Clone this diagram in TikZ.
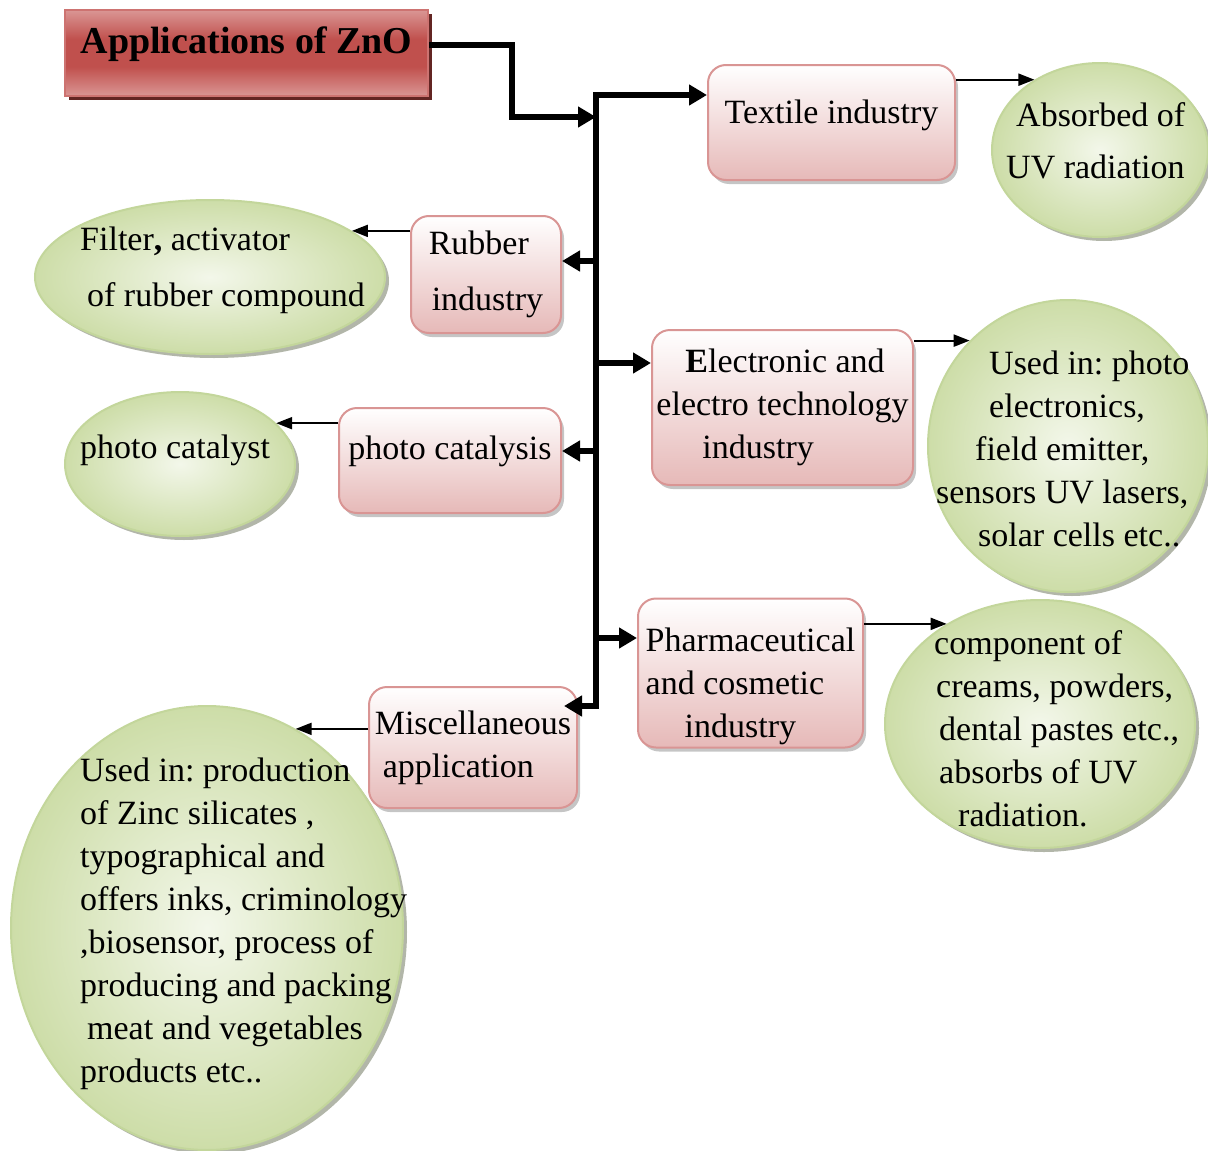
\documentclass[tikz,border=0pt]{standalone}
\usepackage{fontspec}
\setmainfont{Liberation Serif}
\usetikzlibrary{arrows.meta,shapes.geometric,shadows}
\frenchspacing

\definecolor{boxline}{HTML}{D99594}
\definecolor{boxfill}{HTML}{E6B9B8}
\definecolor{titlered}{HTML}{C0504D}
\definecolor{titlelight}{HTML}{DA9694}
\definecolor{titleshadow}{HTML}{632523}
\definecolor{ellline}{HTML}{C3D69B}
\definecolor{ellin}{HTML}{F3F7EA}
\definecolor{ellout}{HTML}{CDDDA8}

\pgfdeclareverticalshading{titleshade}{100bp}{color(0bp)=(titlelight); color(25bp)=(titlelight);
  color(42bp)=(titlered); color(58bp)=(titlered); color(75bp)=(titlelight); color(100bp)=(titlelight)}

\tikzset{
  pinkbox/.style={rectangle, rounded corners=18pt, draw=boxline, line width=2pt,
    top color=white, bottom color=boxfill,
    drop shadow={shadow xshift=3pt, shadow yshift=-4pt, fill=black!45},
    align=center, inner sep=2pt, font=\fontsize{34}{43}\selectfont},
  greenell/.style={ellipse, draw=ellline, line width=2pt, inner sep=0pt,
    inner color=ellin, outer color=ellout,
    drop shadow={shadow xshift=4pt, shadow yshift=-4pt, fill=ellout!50!black}},
  elltext/.style={anchor=west, align=left, inner sep=0pt, font=\fontsize{34}{43}\selectfont},
  bigarrow/.style={line width=6pt, >={Triangle[length=18pt,width=20pt]}, ->},
  thinarrow/.style={line width=2pt, -{Triangle[length=16pt,width=12pt]}},
}

\begin{document}
\begin{tikzpicture}[x=1pt,y=-1pt]
\useasboundingbox (0,0) rectangle (1208,1151);

% title
\node[rectangle, draw=titlered!80, line width=2pt, shading=titleshade,
  minimum width=363pt, text height=35pt, text depth=35pt, inner ysep=8pt,
  drop shadow={shadow xshift=4pt, shadow yshift=-4pt, fill=titleshadow, opacity=1},
  font=\fontsize{38}{44}\bfseries] (title) at (246.5,53) {Applications of ZnO};

% branches
\node[pinkbox, minimum width=247pt, minimum height=115pt, text height=24pt, text depth=22pt] (textile) at (831.5,122.5) {Textile industry};
\node[pinkbox, minimum width=150pt, minimum height=117pt, align=left, font=\fontsize{34}{56}\selectfont] (rubber) at (486,274.5) {Rubber\\\hspace*{3pt}industry};
\node[pinkbox, minimum width=261pt, minimum height=155pt, align=left] (electro) at (782.5,407.5) {\hspace*{29pt}\textbf{E}lectronic and\\electro technology\\\hspace*{46pt}industry};
\node[pinkbox, minimum width=222pt, minimum height=105pt, text height=24pt, text depth=27pt] (catalysis) at (450,460.5) {photo catalysis};
\node[pinkbox, minimum width=225pt, minimum height=146pt, align=left, text height=137pt, text depth=8pt] (pharma) at (750.5,673) {Pharmaceutical\\and cosmetic\\\hspace*{39pt}industry};
\node[pinkbox, minimum width=208pt, minimum height=121pt, align=left] (misc) at (473,747.5) {Miscellaneous\\\hspace*{8pt}application};

% uses
\node[greenell, minimum width=216pt, minimum height=174pt] (absorbed) at (1100,150) {};
\node[greenell, minimum width=350pt, minimum height=154pt] (filter) at (210,277) {};
\node[greenell, minimum width=230pt, minimum height=144pt] (catalyst) at (180,464) {};
\node[greenell, minimum width=280pt, minimum height=292pt] (usedphoto) at (1068,446) {};
\node[greenell, minimum width=310pt, minimum height=248pt] (component) at (1040,724) {};
\node[greenell, minimum width=392pt, minimum height=444pt] (usedmisc) at (207,928) {};

\node[elltext, font=\fontsize{34}{52}\selectfont] (absorbedtxt) at (1006,141) {\hspace*{10pt}Absorbed of\\UV radiation};
\node[elltext, font=\fontsize{34}{56}\selectfont] (filtertxt) at (80,270) {Filter\textbf{,} activator\\\hspace*{7pt}of rubber compound};
\node[elltext] (catalysttxt) at (80,450) {photo catalyst};
\node[elltext] (usedphototxt) at (936,448.5) {\hspace*{53pt}Used in: photo\\\hspace*{53pt}electronics,\\\hspace*{39pt}field emitter,\\sensors UV lasers,\\\hspace*{42pt}solar cells etc..};
\node[elltext] (componenttxt) at (934,729) {component of\\\hspace*{2pt}creams, powders,\\\hspace*{5pt}dental pastes etc.,\\\hspace*{5pt}absorbs of UV\\\hspace*{24pt}radiation.};
\node[elltext] (usedmisctxt) at (80,923.5) {Used in: production\\of Zinc silicates ,\\typographical and\\offers inks, criminology\\,biosensor, process of\\producing and packing\\\hspace*{7pt}meat and vegetables\\products etc..};

% trunk
\coordinate (jtop) at (596,95);
\coordinate (jbot) at (596,706);
\coordinate (entry) at (596,117);
\coordinate (brubber) at (596,261);
\coordinate (belectro) at (596,363);
\coordinate (bcatalysis) at (596,451);
\coordinate (bpharma) at (596,638);

\draw[bigarrow] ([yshift=8pt]title.east) -- ++(83,0) |- (entry);
\draw[bigarrow, <->] (jtop -| textile.west) -- (jtop) -- (jbot) -- ([xshift=-14pt]misc.east |- jbot);
\draw[bigarrow] (brubber) -- (brubber -| rubber.east);
\draw[bigarrow] (belectro) -- (belectro -| electro.west);
\draw[bigarrow] (bcatalysis) -- (bcatalysis -| catalysis.east);
\draw[bigarrow] (bpharma) -- (bpharma -| pharma.west);

\draw[thinarrow] (absorbed.133 -| textile.east) -- (absorbed.133);
\draw[thinarrow] (filter.18 -| rubber.west) -- (filter.18);
\draw[thinarrow] (catalyst.23 -| catalysis.west) -- (catalyst.23);
\draw[thinarrow] (usedphoto.133 -| electro.east) -- (usedphoto.133);
\draw[thinarrow] (component.133 -| pharma.east) -- (component.133);
\draw[thinarrow] (usedmisc.66 -| misc.west) -- (usedmisc.66);
\end{tikzpicture}
\end{document}
